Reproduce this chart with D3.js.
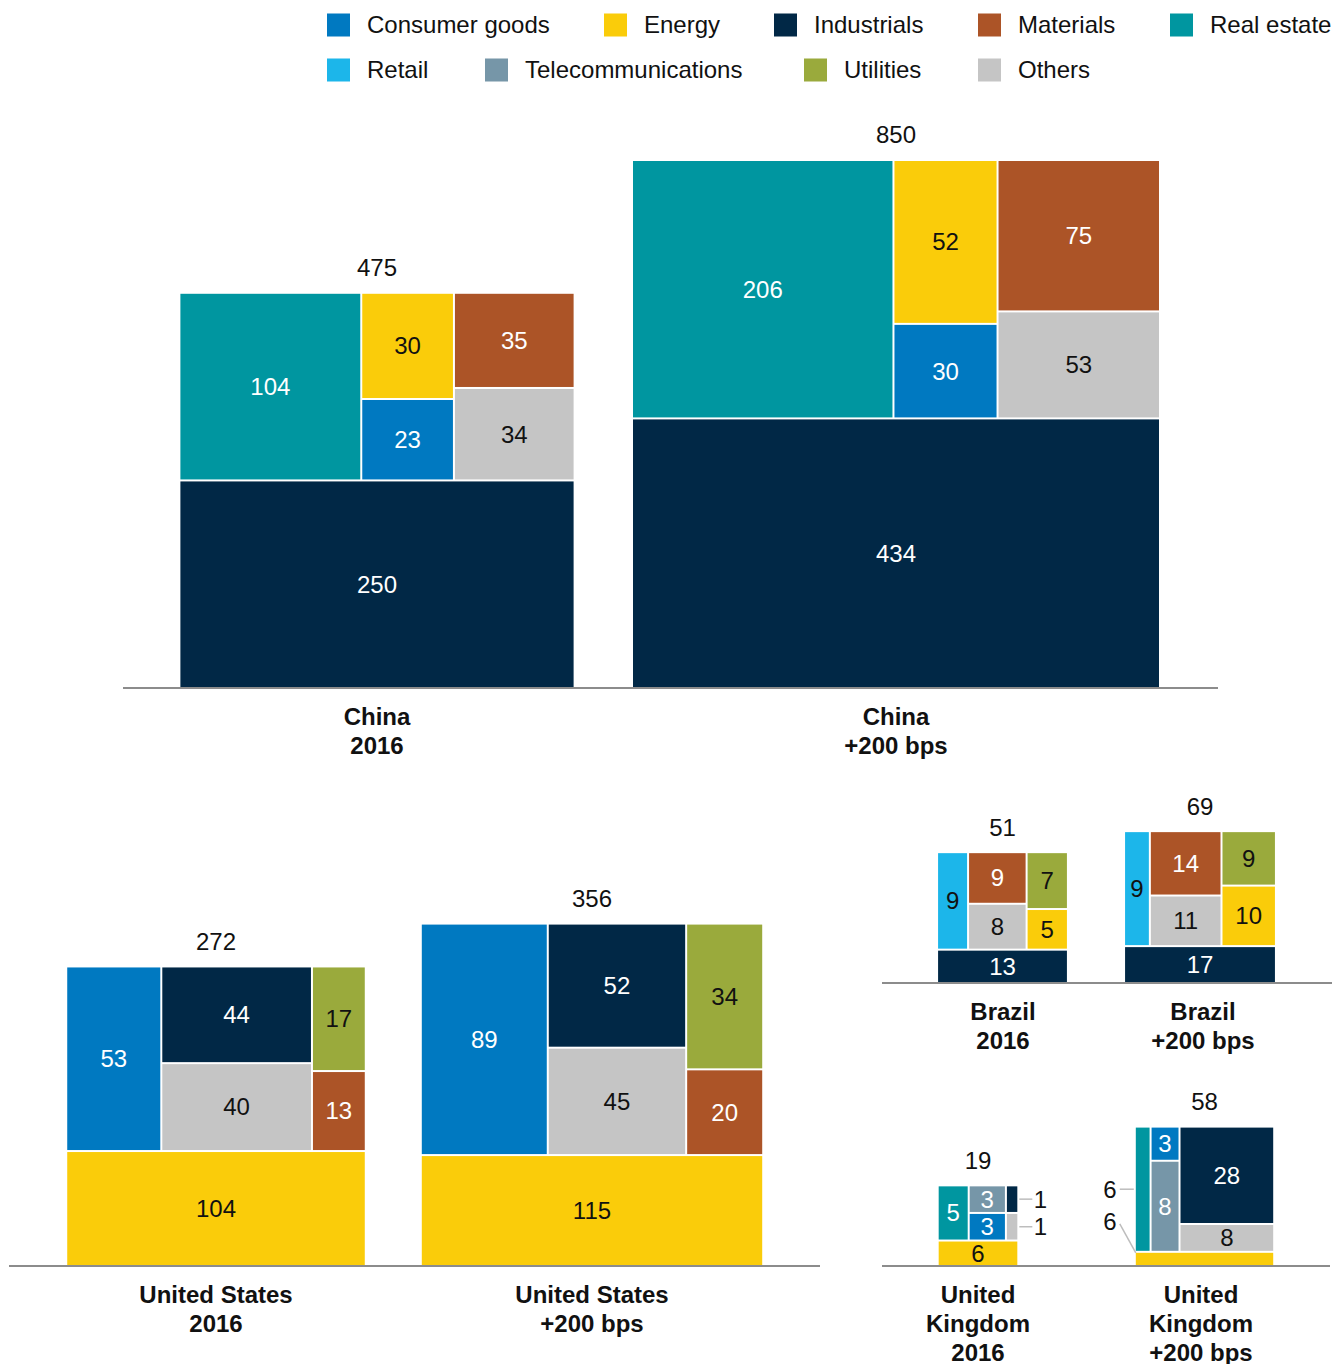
<!DOCTYPE html>
<html><head><meta charset="utf-8">
<script src="https://cdn.jsdelivr.net/npm/d3@7"></script>
<style>
body{margin:0;background:#fff;}
svg{display:block;font-family:"Liberation Sans",Arial,sans-serif;}
</style></head>
<body><svg id="chart" width="1333" height="1364"></svg>
<script>
// ---------- data ----------
const sectors = ["Consumer goods","Energy","Industrials","Materials","Real estate","Retail","Telecommunications","Utilities","Others"];
const sectorColors = ["#0079C1","#FACC0A","#012846","#AC5427","#0096A0","#1CB6EA","#7696A8","#9AAA3C","#C5C5C5"];
const darkTextSectors = ["Energy","Retail","Utilities","Others"];

const countries = ["China","United States","Brazil","United Kingdom"];
const scenarios = ["2016","+200 bps"];
const blockCountry = ["China","China","United States","United States","Brazil","Brazil","United Kingdom","United Kingdom"];
const blockScenario = ["2016","+200 bps","2016","+200 bps","2016","+200 bps","2016","+200 bps"];
const blockTotals = [475, 850, 272, 356, 51, 69, 19, 58];

// bottom band of each block
const bottomBands = [
  ["Industrials",250],["Industrials",434],
  ["Energy",104],["Energy",115],
  ["Industrials",13],["Industrials",17],
  ["Energy",6],["Energy",6]
];
// columns above the band (each column: cells top to bottom)
const topColumns = [
  [[["Real estate",104]],[["Energy",30],["Consumer goods",23]],[["Materials",35],["Others",34]]],
  [[["Real estate",206]],[["Energy",52],["Consumer goods",30]],[["Materials",75],["Others",53]]],
  [[["Consumer goods",53]],[["Industrials",44],["Others",40]],[["Utilities",17],["Materials",13]]],
  [[["Consumer goods",89]],[["Industrials",52],["Others",45]],[["Utilities",34],["Materials",20]]],
  [[["Retail",9]],[["Materials",9],["Others",8]],[["Utilities",7],["Energy",5]]],
  [[["Retail",9]],[["Materials",14],["Others",11]],[["Utilities",9],["Energy",10]]],
  [[["Real estate",5]],[["Telecommunications",3],["Consumer goods",3]],[["Industrials",1],["Others",1]]],
  [[["Real estate",6]],[["Consumer goods",3],["Telecommunications",8]],[["Industrials",28],["Others",8]]]
];

// ---------- layout config ----------
const panels = {
  "China":          {base:687,  centers:[377,896],     labelCenters:[377,896],   axis:[123,1218], lines:["China"]},
  "United States":  {base:1265, centers:[216,592],     labelCenters:[216,592],   axis:[9,820],    lines:["United States"]},
  "Brazil":         {base:982,  centers:[1002.5,1200], labelCenters:[1003,1203], axis:[882,1332], lines:["Brazil"]},
  "United Kingdom": {base:1265, centers:[978,1204.5],  labelCenters:[978,1201],  axis:[882,1330], lines:["United","Kingdom"]}
};
// labels placed outside small cells
const callouts = [
  {block:6, sector:"Industrials", side:"right"},
  {block:6, sector:"Others", side:"right"},
  {block:7, sector:"Real estate", side:"left"},
  {block:7, sector:"Energy", side:"leftUp"}
];

const color = d3.scaleOrdinal().domain(sectors).range(sectorColors);
const side = d3.scaleSqrt().domain([0, 850]).range([0, 526]);
const svg = d3.select("#chart");
const FONT = 24;

// ---------- legend ----------
const legendRows = [
  {y:25, x:[327,604,774,978,1170], items:sectors.slice(0,5)},
  {y:70, x:[327,485,804,978], items:sectors.slice(5)}
];
legendRows.forEach(r=>{
  const g = svg.append("g");
  r.items.forEach((s,i)=>{
    g.append("rect").attr("x",r.x[i]).attr("y",r.y-11.5).attr("width",23).attr("height",23).attr("fill",color(s));
    g.append("text").attr("x",r.x[i]+40).attr("y",r.y).attr("dy","0.35em")
      .attr("font-size",FONT).attr("fill","#111").text(s);
  });
});

// ---------- blocks ----------
const tile = (node,x0,y0,x1,y1)=> (node.depth % 2 === 0 ? d3.treemapSlice : d3.treemapDice)(node,x0,y0,x1,y1);

blockTotals.forEach((total, bi)=>{
  const country = blockCountry[bi], scen = blockScenario[bi];
  const p = panels[country];
  const xs = d3.scalePoint().domain(scenarios).range(p.centers);
  const xl = d3.scalePoint().domain(scenarios).range(p.labelCenters);
  const s = side(total);
  const cx = xs(scen);
  const x0 = cx - s/2, y0 = p.base - s;

  const tree = {children:[
    {children: topColumns[bi].map(col=>({children: col.map(([k,v])=>({sector:k,value:v}))}))},
    {sector: bottomBands[bi][0], value: bottomBands[bi][1]}
  ]};
  const root = d3.hierarchy(tree).sum(d=>d.value||0);
  d3.treemap().tile(tile).size([s,s]).paddingInner(2).round(false)(root);

  const g = svg.append("g").attr("transform",`translate(${x0},${y0})`);
  const leaves = root.leaves();
  g.selectAll("rect").data(leaves).join("rect")
    .attr("x",d=>d.x0).attr("y",d=>d.y0)
    .attr("width",d=>Math.max(0,d.x1-d.x0)).attr("height",d=>Math.max(0,d.y1-d.y0))
    .attr("fill",d=>color(d.data.sector));

  leaves.forEach(d=>{
    const co = callouts.find(c=>c.block===bi && c.sector===d.data.sector);
    const my = (d.y0+d.y1)/2, mx=(d.x0+d.x1)/2;
    if(!co){
      g.append("text").attr("x",mx).attr("y",my).attr("dy","0.35em").attr("text-anchor","middle")
        .attr("font-size",FONT).attr("fill",darkTextSectors.includes(d.data.sector)?"#111":"#fff")
        .text(d.data.value);
    } else if(co.side==="right"){
      g.append("line").attr("x1",d.x1+2).attr("x2",d.x1+15).attr("y1",my).attr("y2",my)
        .attr("stroke","#bdbdbd").attr("stroke-width",1.5);
      g.append("text").attr("x",d.x1+23).attr("y",my).attr("dy","0.35em").attr("text-anchor","middle")
        .attr("font-size",FONT).attr("fill","#111").text(d.data.value);
    } else if(co.side==="left"){
      g.append("line").attr("x1",d.x0-2).attr("x2",d.x0-16).attr("y1",my).attr("y2",my)
        .attr("stroke","#bdbdbd").attr("stroke-width",1.5);
      g.append("text").attr("x",d.x0-26).attr("y",my).attr("dy","0.35em").attr("text-anchor","middle")
        .attr("font-size",FONT).attr("fill","#111").text(d.data.value);
    } else {
      g.append("line").attr("x1",d.x0-16).attr("y1",d.y0-29).attr("x2",d.x0).attr("y2",d.y0)
        .attr("stroke","#bdbdbd").attr("stroke-width",1.5);
      g.append("text").attr("x",d.x0-26).attr("y",d.y0-31).attr("dy","0.35em").attr("text-anchor","middle")
        .attr("font-size",FONT).attr("fill","#111").text(d.data.value);
    }
  });

  // total label
  svg.append("text").attr("x",cx).attr("y",y0-26).attr("dy","0.35em").attr("text-anchor","middle")
    .attr("font-size",FONT).attr("fill","#111").text(total);

  // category label
  const lines = p.lines.concat([scen]);
  lines.forEach((t,li)=>{
    svg.append("text").attr("x",xl(scen)).attr("y",p.base+30+li*28.7).attr("dy","0.35em").attr("text-anchor","middle")
      .attr("font-size",FONT).attr("font-weight","bold").attr("fill","#111").text(t);
  });
});

// axis baselines
Object.values(panels).forEach(p=>{
  svg.append("line").attr("x1",p.axis[0]).attr("x2",p.axis[1]).attr("y1",p.base+1).attr("y2",p.base+1)
    .attr("stroke","#8c8c8c").attr("stroke-width",2);
});
</script></body></html>
